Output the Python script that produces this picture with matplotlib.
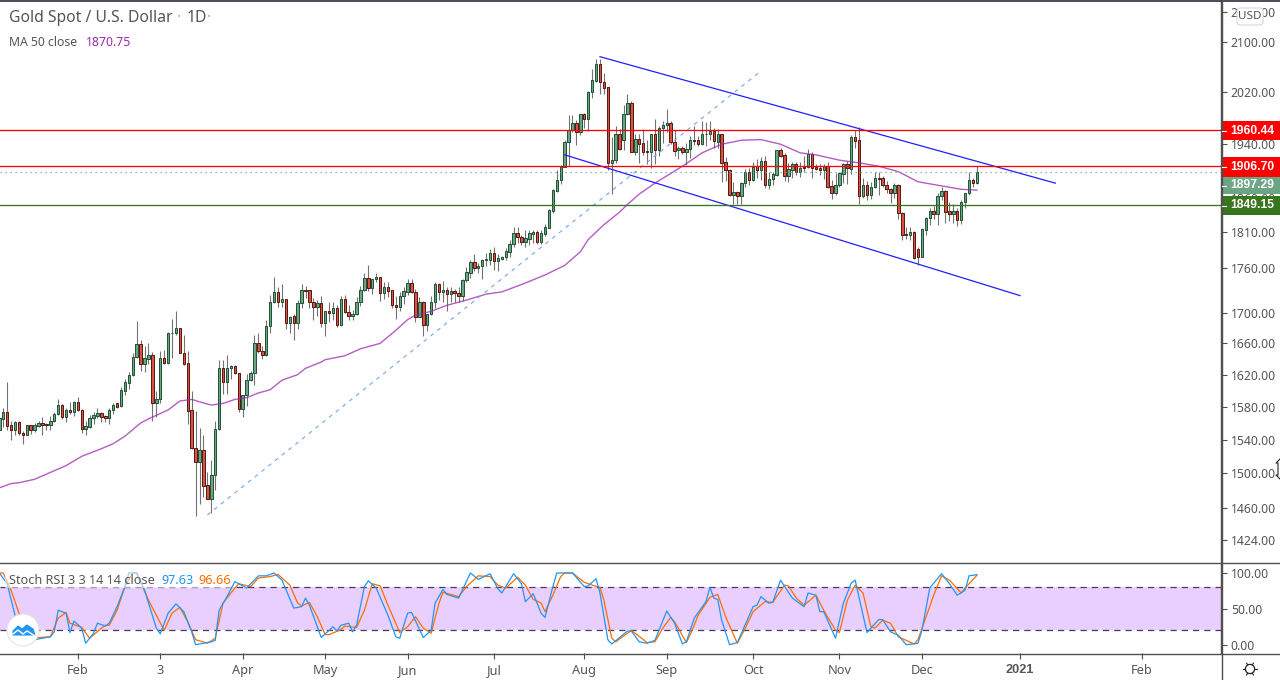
import numpy as np
import matplotlib
matplotlib.use("Agg")
import matplotlib.pyplot as plt
from matplotlib.patches import Circle, FancyBboxPatch, Polygon, Rectangle
from matplotlib.ticker import FixedLocator, NullLocator, FixedFormatter

plt.rcParams["font.family"] = ["Noto Sans", "DejaVu Sans"]

# === daily candles (one entry per session) ===
opens = [1552,1565,1573,1557,1551,1561,1548,1546,1557,1551,1556,1560,1559,1558,1562,1571,1582,1567,1576,1573,
         1586,1576,1553,1555,1566,1569,1572,1568,1566,1576,1584,1581,1600,1610,1619,1642,1659,1634,1640,1645,
         1585,1590,1641,1635,1673,1674,1680,1648,1635,1576,1530,1513,1528,1486,1470,1498,1553,1628,1611,1629,
         1631,1622,1577,1594,1613,1622,1660,1650,1645,1682,1714,1728,1715,1718,1686,1696,1686,1713,1731,1730,
         1714,1708,1713,1686,1703,1700,1706,1684,1718,1701,1696,1699,1715,1730,1747,1733,1746,1748,1726,1735,
         1730,1710,1708,1722,1728,1740,1728,1695,1714,1684,1698,1714,1739,1728,1731,1725,1729,1726,1722,1744,
         1754,1769,1760,1763,1771,1772,1781,1770,1773,1775,1783,1794,1809,1803,1797,1801,1808,1810,1796,1808,
         1817,1841,1870,1886,1905,1942,1960,1972,1957,1985,1977,2019,2037,2065,2035,2027,1911,1915,1955,1945,
         1985,2002,1928,1947,1941,1929,1928,1955,1930,1964,1969,1971,1942,1930,1934,1928,1932,1946,1945,1940,
         1955,1954,1959,1943,1954,1912,1900,1864,1868,1862,1881,1897,1885,1906,1900,1914,1878,1887,1893,1930,
         1923,1891,1901,1909,1897,1905,1905,1924,1905,1903,1900,1907,1877,1867,1878,1895,1909,1902,1950,1945,
         1862,1878,1864,1876,1889,1888,1879,1872,1866,1879,1838,1808,1807,1810,1787,1776,1814,1830,1841,1836,
         1862,1870,1840,1836,1841,1827,1853,1866,1885,1881]
highs = [1568,1578,1611,1562,1562,1562,1550,1558,1558,1560,1562,1567,1560,1568,1573,1589,1583,1578,1586,1587,
         1592,1577,1562,1570,1573,1578,1574,1570,1578,1585,1584,1604,1614,1623,1647,1689,1665,1656,1661,1649,
         1599,1650,1652,1675,1692,1702,1680,1671,1650,1599,1575,1554,1546,1502,1516,1562,1639,1639,1645,1632,
         1632,1622,1595,1621,1625,1671,1673,1657,1691,1724,1748,1734,1739,1718,1696,1699,1717,1739,1736,1731,
         1720,1717,1722,1703,1714,1714,1711,1722,1724,1711,1704,1721,1736,1754,1765,1746,1754,1748,1741,1741,
         1730,1722,1728,1735,1745,1745,1732,1721,1716,1699,1722,1741,1740,1743,1735,1735,1732,1735,1746,1762,
         1772,1780,1767,1773,1781,1787,1790,1780,1777,1788,1800,1818,1818,1806,1813,1813,1814,1814,1813,1822,
         1843,1872,1900,1908,1945,1983,1983,1976,1985,1987,2021,2056,2072,2072,2049,2028,1950,1967,1962,1999,
         2016,2006,1955,1955,1962,1945,1955,1977,1967,1975,1993,1975,1960,1936,1937,1941,1952,1966,1952,1975,
         1973,1975,1964,1962,1955,1920,1902,1882,1870,1882,1902,1903,1913,1917,1920,1921,1898,1898,1931,1933,
         1926,1911,1913,1913,1913,1922,1932,1928,1910,1910,1910,1913,1886,1896,1898,1911,1914,1953,1960,1965,
         1889,1884,1882,1898,1898,1892,1884,1874,1881,1880,1839,1818,1818,1812,1790,1816,1832,1845,1848,1866,
         1876,1871,1853,1850,1845,1857,1867,1897,1888,1906]
lows = [1551,1555,1551,1539,1545,1545,1535,1545,1547,1549,1555,1545,1551,1551,1561,1570,1565,1561,1571,1568,
        1575,1548,1546,1554,1559,1566,1561,1561,1559,1571,1578,1580,1595,1602,1618,1641,1624,1623,1634,1562,
        1567,1584,1633,1633,1641,1671,1647,1632,1559,1529,1451,1465,1473,1470,1454,1481,1552,1596,1596,1614,
        1621,1573,1567,1581,1612,1607,1648,1640,1644,1674,1713,1708,1708,1679,1673,1665,1679,1706,1720,1706,
        1691,1696,1681,1669,1688,1690,1681,1682,1700,1691,1691,1697,1709,1729,1729,1725,1742,1716,1719,1721,
        1706,1692,1703,1712,1724,1727,1688,1694,1669,1676,1697,1707,1717,1715,1703,1715,1714,1715,1716,1742,
        1747,1756,1753,1746,1763,1765,1758,1757,1771,1772,1776,1790,1795,1793,1790,1792,1795,1794,1794,1805,
        1816,1838,1868,1880,1905,1906,1958,1938,1953,1964,1959,2010,2035,2016,2016,1901,1865,1911,1931,1931,
        1984,1927,1923,1911,1923,1910,1903,1910,1921,1941,1958,1940,1921,1917,1925,1908,1919,1938,1936,1938,
        1936,1945,1933,1934,1882,1884,1862,1850,1851,1850,1876,1878,1884,1889,1886,1874,1873,1878,1892,1920,
        1884,1882,1888,1893,1890,1898,1904,1889,1900,1893,1887,1874,1858,1864,1876,1881,1880,1895,1934,1850,
        1859,1857,1858,1874,1864,1876,1866,1852,1859,1829,1800,1801,1800,1773,1765,1775,1807,1821,1829,1821,
        1857,1823,1826,1824,1819,1822,1845,1864,1876,1880]
closes = [1566,1573,1556,1551,1561,1548,1546,1557,1551,1557,1560,1557,1558,1562,1571,1582,1567,1576,1573,1586,
          1576,1553,1556,1566,1570,1572,1567,1566,1576,1582,1580,1601,1611,1619,1642,1659,1634,1641,1645,1585,
          1590,1641,1635,1673,1674,1680,1648,1634,1575,1530,1513,1528,1485,1470,1498,1553,1628,1611,1629,1631,
          1622,1577,1594,1613,1622,1660,1650,1645,1682,1714,1728,1715,1718,1686,1695,1686,1713,1730,1729,1714,
          1708,1713,1686,1703,1700,1706,1684,1718,1701,1696,1699,1715,1730,1747,1733,1745,1748,1726,1735,1729,
          1710,1708,1722,1729,1740,1728,1695,1714,1684,1698,1714,1739,1728,1731,1725,1729,1726,1722,1744,1755,
          1769,1760,1763,1771,1773,1781,1770,1774,1775,1784,1794,1809,1803,1797,1802,1809,1810,1796,1809,1818,
          1842,1871,1886,1905,1942,1960,1972,1957,1985,1977,2019,2038,2065,2035,2026,1911,1915,1955,1932,1985,
          2002,1928,1947,1940,1928,1928,1955,1930,1964,1969,1971,1943,1929,1934,1928,1932,1946,1944,1940,1955,
          1954,1959,1944,1954,1911,1900,1864,1868,1862,1881,1897,1885,1905,1900,1914,1878,1887,1894,1930,1922,
          1891,1902,1909,1897,1904,1904,1924,1904,1902,1901,1907,1876,1867,1878,1896,1909,1903,1950,1944,1862,
          1878,1864,1876,1889,1887,1879,1872,1866,1879,1838,1807,1807,1810,1774,1776,1815,1830,1841,1836,1862,
          1870,1839,1836,1841,1827,1854,1866,1885,1881,1897.29]

# === moving average and price levels ===
ma_idx = [0,3,5,9,13,17,21,26,29,32,36,38,43,46,49,51,54,57,60,63,66,69,72,76,78,82,83,88,92,97,101,104,106,110,
          114,119,124,128,134,139,144,148,150,154,158,160,163,167,174,179,184,189,194,199,204,208,214,219,224,229,
          234,240,245,249]
ma_vals = [1483,1488,1489,1493,1501,1509,1520,1529,1535,1544,1560,1565,1576,1587,1589,1586,1582,1584,1589,1591,
           1597,1601,1613,1620,1628,1636,1639,1644,1653,1660,1677,1691,1697,1702,1710,1717,1725,1728,1740,1751,
           1764,1783,1800,1821,1839,1850,1865,1881,1906,1926,1939,1945,1946,1939,1926,1923,1915,1911,1906,1898,
           1883,1877,1872,1870.75]
resistance_hi = 1960.44
resistance_lo = 1906.70
support = 1849.15
last_price = 1897.29

# trend lines (session, price)
upper_chan = ([153, 269], [2076, 1881])
lower_chan = ([144, 260], [1923, 1723])
rising_line = ([53, 194], [1452, 2053])

# === Stoch RSI ===
k_idx = [0,2,4,5,7,9,13,14,15,17,18,19,21,22,24,25,27,28,30,32,33,35,37,40,41,43,45,47,49,50,54,55,56,58,60,63,66,68,
         70,72,75,77,78,79,82,83,85,86,87,89,90,91,93,94,96,99,101,102,104,105,108,110,111,113,114,117,120,122,125,
         127,128,131,133,134,136,138,139,141,142,146,149,150,152,153,155,156,160,161,163,165,167,170,172,174,175,177,
         180,181,182,183,184,186,188,192,193,194,196,197,199,202,205,206,208,209,210,213,215,217,218,221,224,225,227,
         229,231,234,235,237,240,242,244,246,247,249]
k_vals = [100,85,41,30,13,7,11,18,48,44,17,33,23,2,16,30,26,30,53,81,100,100,76,23,15,44,57,46,18,0,4,6,48,67,88,79,96,96,
          100,90,51,53,65,55,10,15,25,19,27,30,18,27,81,89,79,41,11,9,44,45,10,20,58,77,70,65,100,91,99,
          78,72,99,85,60,71,44,38,81,100,100,81,82,92,72,7,1,19,19,4,2,6,47,30,1,4,37,
          60,80,65,63,34,0,3,53,55,67,58,59,90,65,53,72,69,46,46,9,58,86,90,17,35,35,18,
          13,0,2,20,79,99,85,69,76,96,97.63]
d_idx = [0,1,3,5,9,10,13,15,17,18,21,23,26,27,28,30,32,34,35,38,42,44,46,48,50,53,55,57,60,61,64,66,69,71,74,76,77,79,81,
         83,84,87,88,91,93,95,97,99,102,104,106,108,110,112,113,117,119,122,125,127,129,132,134,136,138,139,141,143,144,
         146,149,151,153,154,156,157,161,165,167,169,171,172,175,176,178,181,183,185,187,188,190,192,195,197,200,201,203,
         205,208,210,213,214,216,218,220,222,223,225,227,229,233,234,238,240,242,245,246,249]
d_vals = [100,100,76,44,7,10,11,37,45,30,24,9,23,27,27,48,81,100,100,62,20,44,52,32,7,2,9,58,79,85,81,93,95,98,83,58,54,59,39,
          14,14,21,26,24,48,85,82,55,17,25,39,23,16,58,73,67,81,96,95,83,79,94,83,63,58,46,69,95,100,
          100,87,83,80,62,9,4,20,3,4,23,38,32,3,14,41,66,70,39,14,2,23,46,60,59,83,82,65,
          55,69,48,20,17,62,83,72,25,23,34,30,11,1,7,69,96,90,72,79,96.66]

stoch_upper = 80
stoch_lower = 20

# === tick labels ===
price_ticks = [2150, 2100, 2020, 1940, 1860, 1810, 1760, 1700, 1660, 1620, 1580, 1540, 1500, 1460, 1424]
stoch_ticks = [100, 50, 0]
month_idx = [20, 41, 62, 83, 104, 126, 149, 170, 192, 214, 235, 260, 291]
month_labels = ["Feb", "3", "Apr", "May", "Jun", "Jul", "Aug", "Sep", "Oct", "Nov", "Dec", "2021", "Feb"]

# colours
UP = "#6ba583"
UP_EDGE = "#225437"
DOWN = "#d75442"
DOWN_EDGE = "#5b1a13"
WICK = "#737375"
TXT = "#555555"
AXIS = "#4f4f4f"

W, H = 1280, 680
PANE_RIGHT = 1221
fig = plt.figure(figsize=(W / 100, H / 100), dpi=100, facecolor="white")


def pane(top, bottom):
    return fig.add_axes([0, 1 - bottom / H, PANE_RIGHT / W, (bottom - top) / H])


ax = pane(1, 562)
ax2 = pane(563, 653)

# === price pane ===
ax.set_yscale("log")
ax.set_ylim(1399.7, 2168.2)
ax.set_xlim(0.18, 311.18)

o = np.array(opens, dtype=float)
h = np.array(highs, dtype=float)
l = np.array(lows, dtype=float)
c = np.array(closes, dtype=float)
xs = np.arange(len(o))
up = c >= o

ax.vlines(xs, l, h, color=WICK, lw=0.8, zorder=2)
ax.bar(xs[up], (c - o)[up], bottom=o[up], width=0.62, color=UP, edgecolor=UP_EDGE, linewidth=0.72, zorder=3)
ax.bar(xs[~up], (o - c)[~up], bottom=c[~up], width=0.62, color=DOWN, edgecolor=DOWN_EDGE, linewidth=0.72, zorder=3)

ax.plot(ma_idx, ma_vals, color="#9c27b0", alpha=0.75, lw=1.0, zorder=4)
ax.plot(*rising_line, color="#6ea6f8", lw=0.8, dashes=(3.5, 4.3), zorder=4)
ax.plot(*upper_chan, color="#1f1fff", lw=0.9, zorder=5)
ax.plot(*lower_chan, color="#1f1fff", lw=0.9, zorder=5)
ax.axhline(resistance_hi, color="#ff0000", lw=0.95, zorder=6)
ax.axhline(resistance_lo, color="#ff0000", lw=0.95, zorder=6)
ax.axhline(support, color="#38761d", lw=0.95, zorder=6)
ax.axhline(last_price, color=UP, lw=0.9, dashes=(1, 3), zorder=4)

# === stoch pane ===
ax2.set_xlim(0.18, 311.18)
ax2.set_ylim(-11.6, 113.9)
ax2.axhspan(stoch_lower, stoch_upper, color="#e9cffd", lw=0, zorder=1)
for lev in (stoch_upper, stoch_lower):
    ax2.axhline(lev, color="#4a3b5c", lw=0.9, dashes=(5, 4), zorder=2)
ax2.plot(d_idx, d_vals, color="#ff6d00", lw=0.9, zorder=3)
ax2.plot(k_idx, k_vals, color="#2196f3", lw=0.9, zorder=4)

# === axes cosmetics ===
for a in (ax, ax2):
    for side in ("left", "bottom", "top"):
        a.spines[side].set_visible(False)
    a.spines["right"].set_color(AXIS)
    a.spines["right"].set_linewidth(1.0)
    a.set_facecolor("none")
    a.yaxis.tick_right()
    a.tick_params(axis="y", length=4, width=0.8, color=AXIS, labelcolor=TXT, labelsize=8.8, pad=3)
    a.tick_params(axis="x", length=0)
    a.yaxis.set_minor_locator(NullLocator())

ax.set_xticks([])
ax.yaxis.set_major_locator(FixedLocator(price_ticks))
ax.yaxis.set_major_formatter(FixedFormatter([f"{t:.2f}" for t in price_ticks]))
ax2.set_yticks(stoch_ticks)
ax2.set_yticklabels([f"{t:.2f}" for t in stoch_ticks])
ax2.set_xticks(month_idx)
ax2.set_xticklabels(month_labels)
ax2.tick_params(axis="x", length=4, width=0.8, color=AXIS, labelcolor=TXT, labelsize=9.2, pad=4)
for lab, name in zip(ax2.get_xticklabels(), month_labels):
    if name == "2021":
        lab.set_fontweight("bold")
        lab.set_family(["Liberation Sans", "DejaVu Sans"])

# === overlay in pixel coordinates for the chart furniture ===
ov = fig.add_axes([0, 0, 1, 1], zorder=10)
ov.set_xlim(0, W)
ov.set_ylim(H, 0)
ov.axis("off")
ov.patch.set_alpha(0)

ov.plot([0, W], [0.5, 0.5], color="#2a2e39", lw=1.2)
ov.plot([0, W], [562.5, 562.5], color=AXIS, lw=1.0)
ov.plot([0, W], [653.5, 653.5], color=AXIS, lw=1.0)
ov.plot([PANE_RIGHT + 0.5] * 2, [0, H], color=AXIS, lw=1.0)

# legends
ov.text(9, 18, "Gold Spot / U.S. Dollar", fontsize=11.3, color=TXT, va="center")
ov.text(177, 18, "·", fontsize=11.3, color="#b5b5b5", va="center")
ov.text(187, 18, "1D", fontsize=11.3, color=TXT, va="center")
ov.text(207, 18, "·", fontsize=11.3, color="#b5b5b5", va="center")
ov.text(9, 42, "MA 50 close", fontsize=8.8, color=TXT, va="center")
ov.text(86, 42, "1870.75", fontsize=8.8, color="#9c27b0", va="center")
ov.add_patch(Rectangle((5, 571), 226, 17, color="white", alpha=0.55, lw=0))
ov.text(9, 580, "Stoch RSI 3 3 14 14 close", fontsize=9.1, color=TXT, va="center")
ov.text(161, 580, "97.63", fontsize=9.1, color="#2196f3", va="center")
ov.text(198, 580, "96.66", fontsize=9.1, color="#ff6d00", va="center")

# price tags on the right
tags = [
    (121, 140, "#ff0000", f"{resistance_hi:.2f}"),
    (157, 177, "#ff0000", f"{resistance_lo:.2f}"),
    (177, 194, UP, f"{last_price:.2f}"),
    (196, 215, "#38761d", f"{support:.2f}"),
]
for top, bot, col, txt in tags:
    ov.add_patch(Rectangle((PANE_RIGHT + 1, top), W - PANE_RIGHT - 1, bot - top, color=col, lw=0))
    ov.plot([PANE_RIGHT + 1, PANE_RIGHT + 5], [(top + bot) / 2] * 2, color="white", lw=0.8)
    ov.text(1230, (top + bot) / 2, txt, fontsize=8.7, fontweight="bold", color="white", va="center",
            family=["Liberation Sans", "DejaVu Sans"])

# USD box
ov.add_patch(FancyBboxPatch((1237, 8), 26, 17, boxstyle="round,pad=0,rounding_size=3",
                            fc="white", ec="#d6d6d6", lw=0.8))
ov.text(1250, 16.5, "USD", fontsize=8.4, color=TXT, ha="center", va="center")

# logo
ov.add_patch(Circle((23, 630), 16, fc="white", ec="#e4e4e4", lw=0.8))
ov.add_patch(Polygon([(13, 635), (13, 631), (18, 626), (22, 629), (27, 625), (33, 629), (35, 635)],
                     closed=True, fc="#2196f3", ec="#2196f3", lw=0.8))
ov.plot([13, 18, 23, 27, 35], [634, 630, 634, 631, 636], color="white", lw=1.0)

# settings icon and cursor
ov.add_patch(Circle((1250, 669), 4.6, fc="none", ec="#222222", lw=0.9))
for ang in np.arange(0, 360, 60):
    dx, dy = np.cos(np.radians(ang)), np.sin(np.radians(ang))
    ov.plot([1250 + 5 * dx, 1250 + 6.8 * dx], [669 + 5 * dy, 669 + 6.8 * dy], color="#222222", lw=0.8)
ov.plot([1280, 1276, 1278, 1278, 1276, 1280], [459, 463, 463, 475, 475, 479], color="#222222", lw=0.8)

fig.savefig("out.png", dpi=100)
